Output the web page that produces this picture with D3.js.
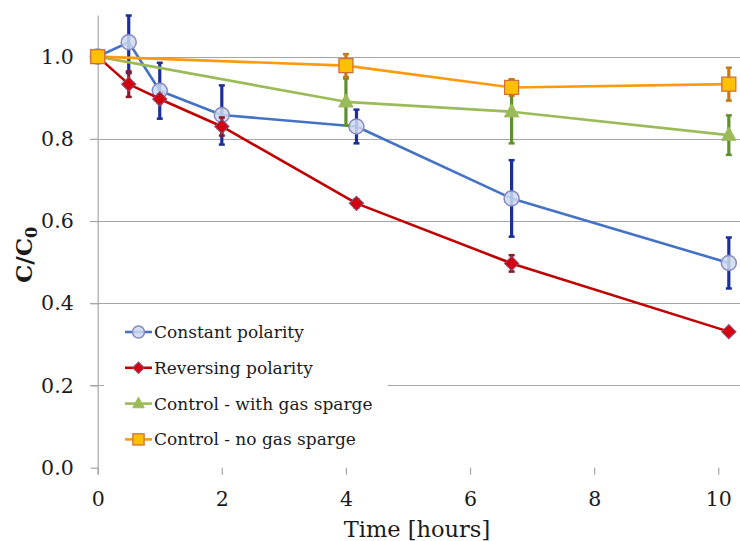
<!DOCTYPE html>
<html><head><meta charset="utf-8">
<script src="https://cdn.jsdelivr.net/npm/d3@7"></script>
<style>html,body{margin:0;padding:0;background:#fff;}svg{display:block;}</style>
</head><body>
<svg id="c" width="740" height="541"></svg>
<script>
const xTicks = [0, 2, 4, 6, 8, 10];
const yTicks = [0.0, 0.2, 0.4, 0.6, 0.8, 1.0];
const seriesNames = ["Constant polarity", "Reversing polarity", "Control - with gas sparge", "Control - no gas sparge"];

const constTime = [0, 0.5, 1, 2, 4.17, 6.67, 10.17];
const constVal  = [1.0, 1.035, 0.917, 0.858, 0.830, 0.655, 0.498];
const constErr  = [0, 0.075, 0.068, 0.072, 0.041, 0.093, 0.062];

const revTime = [0, 0.5, 1, 2, 4.17, 6.67, 10.17];
const revVal  = [1.0, 0.933, 0.897, 0.830, 0.643, 0.497, 0.331];
const revErr  = [0, 0.031, 0.01, 0.022, 0.01, 0.02, 0.005];

const gasTime = [0, 4, 6.67, 10.17];
const gasVal  = [1.0, 0.890, 0.866, 0.809];
const gasErr  = [0, 0.057, 0.077, 0.048];

const noGasTime = [0, 4, 6.67, 10.17];
const noGasVal  = [1.0, 0.978, 0.925, 0.933];
const noGasErr  = [0, 0.028, 0.02, 0.04];

const svg = d3.select("#c");
const x = d3.scaleLinear().domain([0, 10.35]).range([97.7, 740]);
const y = d3.scaleLinear().domain([0, 1.1]).range([467.7, 15.5]);
const FONT = "'DejaVu Serif', serif";
const grid = "#a6a6a6";

// gridlines
svg.append("g").selectAll("line").data(yTicks.filter(d => d > 0)).join("line")
  .attr("x1", 90).attr("x2", 740)
  .attr("y1", d => Math.round(y(d)) + 0.5).attr("y2", d => Math.round(y(d)) + 0.5)
  .attr("stroke", grid).attr("stroke-width", 1.2);

// axes
const yAxis = d3.axisLeft(y).tickValues(yTicks).tickFormat(d3.format(".1f")).tickSize(7).tickPadding(17);
const gy = svg.append("g").attr("transform", "translate(97.7,0)").call(yAxis);
const xAxis = d3.axisBottom(x).tickValues(xTicks).tickFormat(d3.format("d")).tickSize(7).tickPadding(17);
const gx = svg.append("g").attr("transform", "translate(0,467.7)").call(xAxis);
[gx, gy].forEach(g => {
  g.select(".domain").attr("stroke", grid).attr("stroke-width", 1.2);
  g.selectAll(".tick line").attr("stroke", grid).attr("stroke-width", 1.2);
  g.selectAll(".tick text").attr("font-family", FONT).attr("font-size", 20.5).attr("fill", "#1a1a1a");
});
gy.select(".domain").attr("d", "M0.5," + y(1.1) + "V" + (y(0)+7));
gx.select(".domain").attr("d", "M90," + 468 + "H740");

const series = [
  {name: seriesNames[0], t: constTime, v: constVal, e: constErr, line: "#4472c4", err: "#1c2f96", shape: "circle", fill: "rgba(205,218,238,0.85)", stroke: "#8a88c0"},
  {name: seriesNames[1], t: revTime, v: revVal, e: revErr, line: "#c00000", err: "#8a1a2a", shape: "diamond", fill: "#d40010", stroke: "#8a4a6a"},
  {name: seriesNames[2], t: gasTime, v: gasVal, e: gasErr, line: "#9bbb59", err: "#5f8f2e", shape: "triangle", fill: "#9bbb59", stroke: "#9bbb59"},
  {name: seriesNames[3], t: noGasTime, v: noGasVal, e: noGasErr, line: "#ff9a10", err: "#c07a1a", shape: "square", fill: "#ffc000", stroke: "#d0703a"}
];

function marker(g, s, cx, cy, scale) {
  scale = scale || 1;
  if (s.shape === "circle") {
    g.append("circle").attr("cx", cx).attr("cy", cy).attr("r", 7.5*scale)
      .attr("fill", s.fill).attr("stroke", s.stroke).attr("stroke-width", 1.5);
  } else if (s.shape === "diamond") {
    const r = 7*scale;
    g.append("path").attr("d", `M${cx},${cy-r}L${cx+r},${cy}L${cx},${cy+r}L${cx-r},${cy}Z`)
      .attr("fill", s.fill).attr("stroke", s.stroke).attr("stroke-width", 1.2);
  } else if (s.shape === "triangle") {
    const r = 8*scale;
    g.append("path").attr("d", `M${cx},${cy-r}L${cx+r*0.9},${cy+r*0.65}L${cx-r*0.9},${cy+r*0.65}Z`)
      .attr("fill", s.fill).attr("stroke", s.stroke).attr("stroke-width", 1);
  } else {
    const r = 7*scale;
    g.append("rect").attr("x", cx-r).attr("y", cy-r).attr("width", 2*r).attr("height", 2*r)
      .attr("fill", s.fill).attr("stroke", s.stroke).attr("stroke-width", 1.3);
  }
}

const lineGen = d3.line().x(d => x(d[0])).y(d => y(d[1]));
series.forEach(s => {
  const g = svg.append("g");
  const pts = s.t.map((t, i) => [t, s.v[i], s.e[i]]);
  g.append("path").attr("d", lineGen(pts)).attr("fill", "none")
    .attr("stroke", s.line).attr("stroke-width", 2.6).attr("stroke-linejoin", "round");
  pts.filter(p => p[2] > 0).forEach(p => {
    const yt = y(Math.min(p[1] + p[2], 1.1)), yb = y(p[1] - p[2]);
    g.append("line").attr("x1", x(p[0])).attr("x2", x(p[0])).attr("y1", yt).attr("y2", yb)
      .attr("stroke", s.err).attr("stroke-width", 3.2);
    [yt, yb].forEach(yy => g.append("line").attr("x1", x(p[0]) - 3).attr("x2", x(p[0]) + 3)
      .attr("y1", yy).attr("y2", yy).attr("stroke", s.err).attr("stroke-width", 2.5));
  });
  pts.forEach(p => marker(g, s, x(p[0]), y(p[1])));
});

// legend
const lg = svg.append("g");
lg.append("rect").attr("x", 104).attr("y", 313).attr("width", 284).attr("height", 143).attr("fill", "#fff");
series.forEach((s, i) => {
  const cy = 332 + i * 35.8;
  lg.append("line").attr("x1", 125).attr("x2", 152).attr("y1", cy).attr("y2", cy)
    .attr("stroke", s.line).attr("stroke-width", 2.6);
  marker(lg, s, 138.5, cy, 0.8);
  lg.append("text").attr("x", 154).attr("y", cy).attr("dy", "0.35em")
    .attr("font-family", FONT).attr("font-size", 17).attr("fill", "#1a1a1a").text(s.name);
});

// axis titles
svg.append("text").attr("x", 417).attr("y", 537).attr("text-anchor", "middle")
  .attr("font-family", FONT).attr("font-size", 22.5).attr("fill", "#1a1a1a").text("Time [hours]");
const yt = svg.append("text").attr("transform", "translate(32,255) rotate(-90)").attr("text-anchor", "middle")
  .attr("font-family", FONT).attr("font-size", 23).attr("font-weight", "bold").attr("fill", "#1a1a1a");
yt.append("tspan").text("C/C");
yt.append("tspan").attr("font-size", 16).attr("dy", 5).text("0");
</script>
</body></html>
